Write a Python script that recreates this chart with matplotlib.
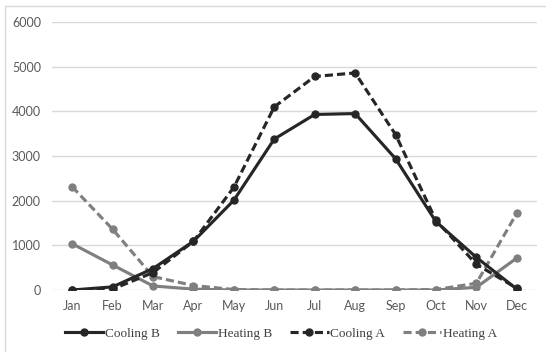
import matplotlib
matplotlib.use("Agg")
import matplotlib.pyplot as plt
from matplotlib.patches import Rectangle

months = ["Jan", "Feb", "Mar", "Apr", "May", "Jun", "Jul", "Aug", "Sep", "Oct", "Nov", "Dec"]
cooling_b = [0, 70, 480, 1090, 2010, 3380, 3930, 3950, 2940, 1530, 730, 20]
heating_b = [1035, 560, 90, 20, 0, 0, 0, 0, 0, 0, 60, 715]
cooling_a = [0, 20, 390, 1090, 2300, 4100, 4780, 4860, 3480, 1560, 575, 40]
heating_a = [2310, 1360, 300, 100, 10, 0, 0, 0, 0, 10, 150, 1720]
yticks = [0, 1000, 2000, 3000, 4000, 5000, 6000]

dark = "#262626"
gray = "#7f7f7f"

fig = plt.figure(figsize=(5.46, 3.52), dpi=100)
ax = fig.add_axes([52/546, (352-290)/352, (537-52)/546, (290-22)/352])

x = list(range(len(months)))
dash = (2.6, 1.3)
ax.plot(x, cooling_b, color=dark, lw=2.25, marker="o", ms=5, label="Cooling B", zorder=4)
ax.plot(x, heating_b, color=gray, lw=2.25, marker="o", ms=5, label="Heating B", zorder=3)
ax.plot(x, cooling_a, color=dark, lw=2.25, marker="o", ms=5, ls=(0, dash), label="Cooling A", zorder=4)
ax.plot(x, heating_a, color=gray, lw=2.25, marker="o", ms=5, ls=(0, dash), label="Heating A", zorder=3)

ax.set_xlim(-0.5, 11.5)
ax.set_ylim(0, 6000)
ax.set_yticks(yticks)
ax.set_xticks(x)
ax.set_xticklabels(months)
for s in ax.spines.values():
    s.set_visible(False)
ax.grid(axis="y", color="#d9d9d9", lw=1)
ax.set_axisbelow(True)
ax.tick_params(axis="both", length=0, labelsize=9, labelcolor="#595959")
ax.tick_params(axis="y", pad=8)
ax.tick_params(axis="x", pad=7)
for lab in ax.get_xticklabels() + ax.get_yticklabels():
    lab.set_fontfamily("Lato")

leg = fig.legend(loc="center", bbox_to_anchor=(281/546, 0.052), ncol=4, frameon=False,
                 prop={"family": "Liberation Serif", "size": 9.5}, handlelength=2.9,
                 handletextpad=0.1, columnspacing=1.4, labelcolor="#404040")

fig.add_artist(Rectangle((5/546, -0.05), 1.1, (352-6)/352 + 0.05, transform=fig.transFigure,
                         fill=False, edgecolor="#d9d9d9", lw=1))

fig.savefig("out.png", dpi=100)
